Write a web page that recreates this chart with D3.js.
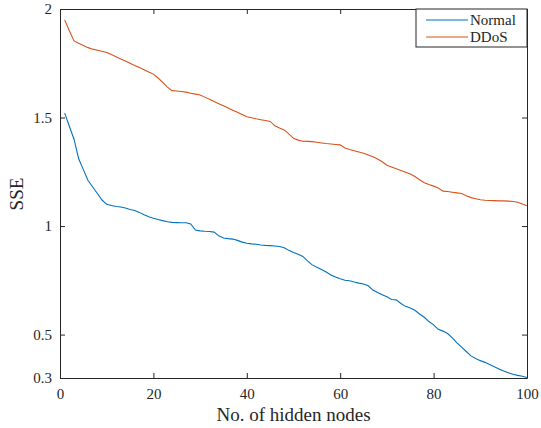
<!DOCTYPE html>
<html>
<head>
<meta charset="utf-8">
<script src="https://cdn.jsdelivr.net/npm/d3@7"></script>
<style>
  body { margin: 0; background: #fff; }
</style>
</head>
<body>
<svg id="chart" width="541" height="428"></svg>
<script>
// number of hidden nodes, 1..100
const hiddenNodes = d3.range(1, 101);

// SSE, one value per node count
const normalSSE = [
  1.52, 1.46, 1.40, 1.31, 1.26, 1.21, 1.18, 1.15, 1.12, 1.10,
  1.095, 1.09, 1.088, 1.083, 1.076, 1.072, 1.063, 1.052, 1.043, 1.036,
  1.030, 1.025, 1.020, 1.017, 1.016, 1.015, 1.015, 1.010, 0.982, 0.978,
  0.976, 0.975, 0.972, 0.955, 0.945, 0.942, 0.940, 0.934, 0.926, 0.921,
  0.918, 0.916, 0.913, 0.911, 0.910, 0.908, 0.906, 0.900, 0.888, 0.878,
  0.870, 0.860, 0.840, 0.821, 0.810, 0.800, 0.788, 0.775, 0.765, 0.757,
  0.750, 0.748, 0.742, 0.737, 0.733, 0.725, 0.705, 0.694, 0.684, 0.674,
  0.662, 0.660, 0.643, 0.630, 0.622, 0.612, 0.595, 0.580, 0.560, 0.545,
  0.524, 0.516, 0.505, 0.485, 0.462, 0.442, 0.422, 0.402, 0.390, 0.380,
  0.372, 0.362, 0.352, 0.342, 0.332, 0.324, 0.317, 0.312, 0.308, 0.302
];

const ddosSSE = [
  1.95, 1.90, 1.853, 1.842, 1.832, 1.822, 1.815, 1.810, 1.805, 1.800,
  1.790, 1.780, 1.770, 1.760, 1.750, 1.740, 1.730, 1.720, 1.710, 1.700,
  1.682, 1.662, 1.640, 1.624, 1.622, 1.620, 1.617, 1.612, 1.608, 1.604,
  1.594, 1.584, 1.574, 1.564, 1.554, 1.544, 1.534, 1.524, 1.514, 1.504,
  1.499, 1.494, 1.490, 1.486, 1.482, 1.462, 1.452, 1.443, 1.425, 1.404,
  1.396, 1.391, 1.390, 1.389, 1.386, 1.383, 1.380, 1.378, 1.376, 1.374,
  1.360, 1.353, 1.347, 1.341, 1.335, 1.327, 1.319, 1.309, 1.296, 1.280,
  1.272, 1.264, 1.256, 1.248, 1.240, 1.228, 1.213, 1.200, 1.191, 1.184,
  1.175, 1.161, 1.159, 1.156, 1.153, 1.150, 1.140, 1.131, 1.126, 1.121,
  1.119, 1.118, 1.117, 1.116, 1.116, 1.115, 1.113, 1.110, 1.102, 1.094
];

const xTicks = [0, 20, 40, 60, 80, 100];
const yTicks = [0.3, 0.5, 1, 1.5, 2];

const seriesNames = ['Normal', 'DDoS'];
const seriesColors = ['#0072BD', '#D95319'];

// plot box in pixels
const box = { left: 60, right: 527, top: 9, bottom: 378 };
const serif = '"Liberation Serif", "Times New Roman", serif';
const axisColor = '#262626';

const svg = d3.select('#chart');

const x = d3.scaleLinear().domain([0, 100]).range([box.left, box.right]);
const y = d3.scaleLinear().domain([0.3, 2]).range([box.bottom, box.top]);

// axes: ticks point inward, mirrored on top and right like matlab
function styleAxis(g) {
  g.attr('font-family', serif).attr('font-size', 15);
  g.selectAll('path').attr('stroke', axisColor).attr('stroke-width', 1);
  g.selectAll('line').attr('stroke', axisColor);
  g.selectAll('text').attr('fill', axisColor);
}

svg.append('g')
  .attr('transform', `translate(0,${box.bottom})`)
  .call(d3.axisBottom(x).tickValues(xTicks).tickSize(-5).tickSizeOuter(0).tickPadding(10))
  .call(styleAxis);

svg.append('g')
  .attr('transform', `translate(${box.left},0)`)
  .call(d3.axisLeft(y).tickValues(yTicks).tickFormat(d3.format('')).tickSize(-5).tickSizeOuter(0).tickPadding(8))
  .call(styleAxis);

svg.append('g')
  .attr('transform', `translate(0,${box.top})`)
  .call(d3.axisTop(x).tickValues(xTicks).tickSize(-5).tickSizeOuter(0).tickFormat(''))
  .call(styleAxis);

svg.append('g')
  .attr('transform', `translate(${box.right},0)`)
  .call(d3.axisRight(y).tickValues(yTicks).tickSize(-5).tickSizeOuter(0).tickFormat(''))
  .call(styleAxis);

// the two curves
const line = d3.line()
  .x((d, i) => x(hiddenNodes[i]))
  .y((d) => y(d));

[normalSSE, ddosSSE].forEach((values, k) => {
  svg.append('path')
    .datum(values)
    .attr('fill', 'none')
    .attr('stroke', seriesColors[k])
    .attr('stroke-width', 1.1)
    .attr('d', line);
});

// axis titles
svg.append('text')
  .attr('x', (box.left + box.right) / 2)
  .attr('y', 421)
  .attr('text-anchor', 'middle')
  .attr('font-family', serif)
  .attr('font-size', 19)
  .attr('fill', axisColor)
  .text('No. of hidden nodes');

svg.append('text')
  .attr('transform', 'translate(23,194) rotate(-90)')
  .attr('text-anchor', 'middle')
  .attr('font-family', serif)
  .attr('font-size', 19)
  .attr('fill', axisColor)
  .text('SSE');

// legend box in the top right corner
const legend = svg.append('g');
legend.append('rect')
  .attr('x', 416).attr('y', box.top)
  .attr('width', box.right - 416).attr('height', 38)
  .attr('fill', '#fff')
  .attr('stroke', axisColor)
  .attr('stroke-width', 1);

seriesNames.forEach((name, k) => {
  const ly = 20 + k * 17;
  legend.append('line')
    .attr('x1', 426).attr('x2', 468)
    .attr('y1', ly).attr('y2', ly)
    .attr('stroke', seriesColors[k])
    .attr('stroke-width', 1.1);
  legend.append('text')
    .attr('x', 470).attr('y', ly + 5)
    .attr('font-family', serif)
    .attr('font-size', 15)
    .attr('fill', axisColor)
    .text(name);
});
</script>
</body>
</html>
